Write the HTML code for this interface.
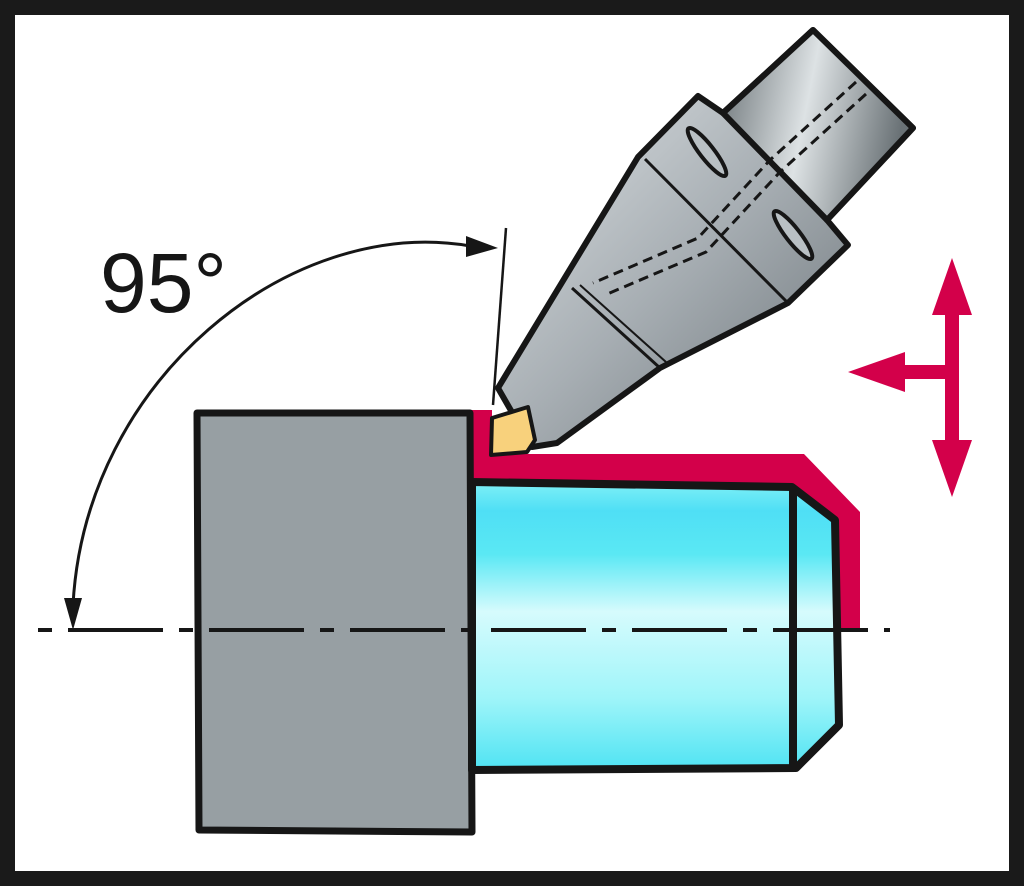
<!DOCTYPE html>
<html><head><style>html,body{margin:0;padding:0;background:#1a1a1a;}svg{display:block}</style></head>
<body>
<svg width="1024" height="886" viewBox="0 0 1024 886" xmlns="http://www.w3.org/2000/svg">
<defs>
<linearGradient id="cy" x1="0" y1="0" x2="0" y2="1">
<stop offset="0" stop-color="#7ff0f6"/><stop offset="0.1" stop-color="#4fdff5"/><stop offset="0.25" stop-color="#5ae8f4"/><stop offset="0.45" stop-color="#d6fbfd"/><stop offset="0.75" stop-color="#9ff5f9"/><stop offset="1" stop-color="#4fe3f3"/>
</linearGradient>
<linearGradient id="gr" x1="0" y1="0" x2="1" y2="1">
<stop offset="0" stop-color="#e8ecee"/><stop offset="0.5" stop-color="#a7aeb3"/><stop offset="1" stop-color="#5f676c"/>
</linearGradient>
<linearGradient id="sh" x1="0" y1="0" x2="1" y2="0.2">
<stop offset="0" stop-color="#6a7276"/><stop offset="0.5" stop-color="#dde2e4"/><stop offset="1" stop-color="#6a7276"/>
</linearGradient>
</defs>
<rect x="15" y="15" width="994" height="856" fill="#fff"/>
<polygon points="470,410 492,410 492,454 804,454 860,512 860,630 835,630 835,520 792,487 472,482" fill="#d3004a"/>
<polygon points="197,413 470,413 472,832 199,830" fill="#979fa3" stroke="#161616" stroke-width="7" stroke-linejoin="round"/>
<polygon points="472,482 792,487 835,520 839,725 796,768 472,770" fill="url(#cy)" stroke="#161616" stroke-width="8" stroke-linejoin="round"/>
<line x1="793" y1="490" x2="793" y2="766" stroke="#161616" stroke-width="8"/>
<line x1="38" y1="630" x2="890" y2="630" stroke="#161616" stroke-width="4" stroke-dasharray="14,16,95,16"/>
<polygon points="498,388 638,157 698,96 723,113 813,30 913,128 827,220 848,245 788,303 660,368 557,443 532,447" fill="url(#gr)" stroke="#161616" stroke-width="6" stroke-linejoin="round"/>
<polygon points="723,113 813,30 913,128 827,220" fill="url(#sh)" stroke="#161616" stroke-width="6" stroke-linejoin="round"/>
<line x1="645" y1="159" x2="788" y2="303" stroke="#161616" stroke-width="3"/>
<line x1="572" y1="288" x2="660" y2="368" stroke="#161616" stroke-width="3"/>
<line x1="580" y1="285" x2="666" y2="362" stroke="#161616" stroke-width="2"/>
<ellipse cx="707" cy="152" rx="30" ry="7" transform="rotate(52 707 152)" fill="#b9c0c4" stroke="#161616" stroke-width="4"/>
<ellipse cx="793" cy="235" rx="30" ry="7" transform="rotate(52 793 235)" fill="#b9c0c4" stroke="#161616" stroke-width="4"/>
<polyline points="856,82 770,160 698,238 593,283" fill="none" stroke="#161616" stroke-width="3" stroke-dasharray="10,6"/>
<polyline points="866,94 780,172 706,252 605,295" fill="none" stroke="#161616" stroke-width="3" stroke-dasharray="10,6"/>
<polygon points="492,418 528,407 535,440 527,452 491,455" fill="#f8d17c" stroke="#161616" stroke-width="4" stroke-linejoin="round"/>
<line x1="506" y1="228" x2="493" y2="405" stroke="#161616" stroke-width="2.5"/>
<path d="M73,605 C85,380 290,215 470,246" fill="none" stroke="#161616" stroke-width="3"/>
<polygon points="466,236 498,248 466,257" fill="#161616"/>
<polygon points="64,598 82,598 73,630" fill="#161616"/>
<text x="100" y="312" font-family="Liberation Sans, sans-serif" font-size="84" fill="#161616">95°</text>
<rect x="945" y="305" width="14" height="150" fill="#d3004a"/>
<rect x="895" y="365" width="60" height="14" fill="#d3004a"/>
<polygon points="952,258 932,315 972,315" fill="#d3004a"/>
<polygon points="952,497 932,440 972,440" fill="#d3004a"/>
<polygon points="848,372 905,352 905,392" fill="#d3004a"/>
</svg>
</body></html>
